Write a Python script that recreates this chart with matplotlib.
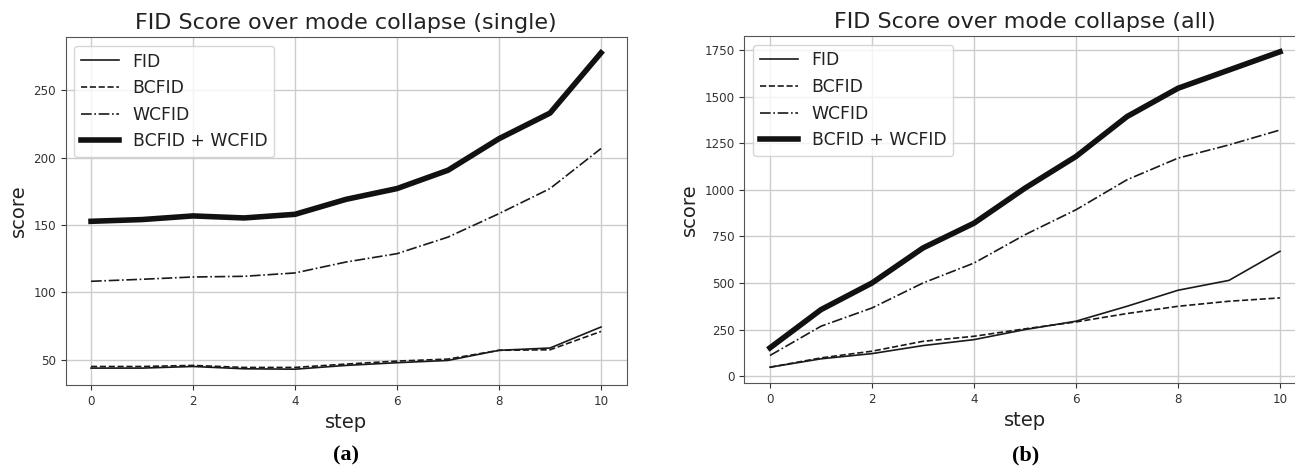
import matplotlib
matplotlib.use("Agg")
import matplotlib.pyplot as plt

steps = list(range(11))

# (a) single
fid_single = [43.8, 43.8, 45.0, 43.3, 43.0, 45.8, 47.8, 49.5, 57.0, 58.7, 74.3]
bcfid_single = [45.0, 45.0, 45.8, 44.3, 44.3, 46.8, 49.0, 50.5, 57.0, 57.4, 71.0]
wcfid_single = [108.2, 109.7, 111.4, 111.9, 114.4, 122.5, 128.7, 141.0, 158.4, 177.0, 206.7]
sum_single = [152.7, 154.0, 156.7, 155.2, 157.9, 169.0, 177.0, 190.6, 214.0, 233.0, 277.7]

# (b) all
fid_all = [48, 93, 121, 164, 196, 250, 295, 375, 461, 514, 670]
bcfid_all = [48, 98, 134, 187, 214, 254, 291, 336, 375, 402, 420]
wcfid_all = [111, 268, 366, 500, 607, 759, 893, 1054, 1170, 1241, 1321]
sum_all = [152, 357, 500, 688, 821, 1009, 1179, 1393, 1545, 1643, 1741]

titles = ["FID Score over mode collapse (single)", "FID Score over mode collapse (all)"]
captions = ["(a)", "(b)"]

fig = plt.figure(figsize=(12.95, 4.69), dpi=100)
ax1 = fig.add_axes([0.0506, 0.1791, 0.4332, 0.742])
ax2 = fig.add_axes([0.5749, 0.1834, 0.4332, 0.7399])

panels = [
    (ax1, fid_single, bcfid_single, wcfid_single, sum_single),
    (ax2, fid_all, bcfid_all, wcfid_all, sum_all),
]

for i, (ax, fid, bc, wc, sm) in enumerate(panels):
    ax.plot(steps, fid, ls='-', color='#1a1a1a', linewidth=1.2, label='FID')
    ax.plot(steps, bc, ls='--', color='#1a1a1a', linewidth=1.2, label='BCFID')
    ax.plot(steps, wc, ls='-.', color='#1a1a1a', linewidth=1.2, label='WCFID')
    ax.plot(steps, sm, ls='-', color='#111111', linewidth=4, label='BCFID + WCFID')
    ax.set_xlim(-0.5, 10.5)
    ax.set_xticks([0, 2, 4, 6, 8, 10])
    ax.grid(color='#cccccc', linewidth=1)
    ax.set_axisbelow(True)
    for s in ax.spines.values():
        s.set_color('#555555')
    ax.tick_params(labelsize=8.6, colors='#333333')
    ax.set_xlabel('step', fontsize=14, color='#222222')
    ax.set_ylabel('score', fontsize=14, color='#222222')
    ax.set_title(titles[i], fontsize=16, color='#222222')
    leg = ax.legend(loc='upper left', fontsize=12.4, handlelength=2.2)
    for t in leg.get_texts():
        t.set_color('#222222')

fig.text(0.2671, 0.028, captions[0], ha='center', va='center',
         family='Liberation Serif', fontweight='bold', fontsize=16)
fig.text(0.7923, 0.028, captions[1], ha='center', va='center',
         family='Liberation Serif', fontweight='bold', fontsize=16)

plt.savefig("out.png")
